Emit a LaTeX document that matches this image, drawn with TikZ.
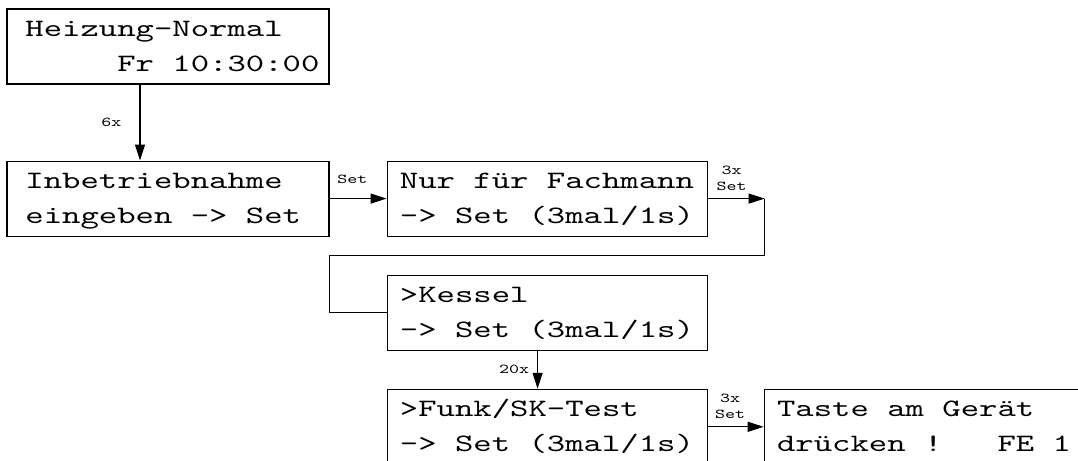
\documentclass[tikz,border=0pt]{standalone}
\usepackage{fontspec}
\usepackage{tikz}
\usetikzlibrary{arrows.meta,positioning}
\newfontfamily\lcdfont[FakeStretch=1.4]{lmmono10-regular.otf}
\newcommand\lcdsize[2]{\lcdfont\fontsize{#1}{#2}\selectfont
 \spaceskip=.735\dimexpr#1\relax\xspaceskip=\spaceskip}

\begin{document}
\begin{tikzpicture}[
 lcd/.style={draw,line width=.55pt,align=flush left,text width=147.2pt,inner xsep=6.4pt,
 inner ysep=1.25pt,minimum height=37.5pt,font=\lcdsize{12.5pt}{17.5pt},
 execute at begin node=\strut,execute at end node=\strut},
 lcdw/.style={lcd,text width=151.8pt,inner xsep=4.6pt,
 execute at begin node={\strut\leftskip=4.6pt}},
 lbl/.style={font=\lcdsize{6.8pt}{8pt},inner sep=1pt,align=center},
 arr/.style={-{Triangle[length=8pt,width=5pt]},line width=.55pt}]
 \clip (0,0) rectangle (539pt,-230.5pt);
 \node[lcdw] (heiz) at (84pt,-23.25pt) {Heizung-Normal\\\phantom{xxxxx}Fr 10:30:00};
 \node[lcdw,below=38pt of heiz] (inb) {Inbetriebnahme\\eingeben -> Set};
 \node[lcd,right=28.5pt of inb] (fach) {Nur für Fachmann\\-> Set (3mal/1s)};
 \node[lcd,below=19pt of fach] (kessel) {>Kessel\\-> Set (3mal/1s)};
 \node[lcd,below=19pt of kessel] (funk) {>Funk/SK-Test\\-> Set (3mal/1s)};
 \node[lcd,right=28pt of funk] (taste) {Taste am Gerät\\drücken~!~~~FE~1};
 \coordinate[right=28.5pt of fach.east] (ecke);
 \coordinate[below=9.5pt of fach.south] (knick);
 \draw[arr] ([xshift=-14pt]heiz.south) -- node[lbl,left=8pt] {6x} ([xshift=-14pt]inb.north);
 \draw[arr] (inb) -- node[lbl,above=6pt,pos=.4] {Set} (fach);
 \draw[arr] (fach) -- node[lbl,above=2.6pt,pos=.42] {3x\\Set} (ecke);
 \draw[line width=.55pt] (ecke) |- (knick -| inb.east) |- (kessel);
 \draw[arr] ([xshift=-4.75pt]kessel.south) -- node[lbl,left=3pt] {20x} ([xshift=-4.75pt]funk.north);
 \draw[arr] (funk) -- node[lbl,above=2.8pt,pos=.4] {3x\\Set} (taste);
\end{tikzpicture}
\end{document}
